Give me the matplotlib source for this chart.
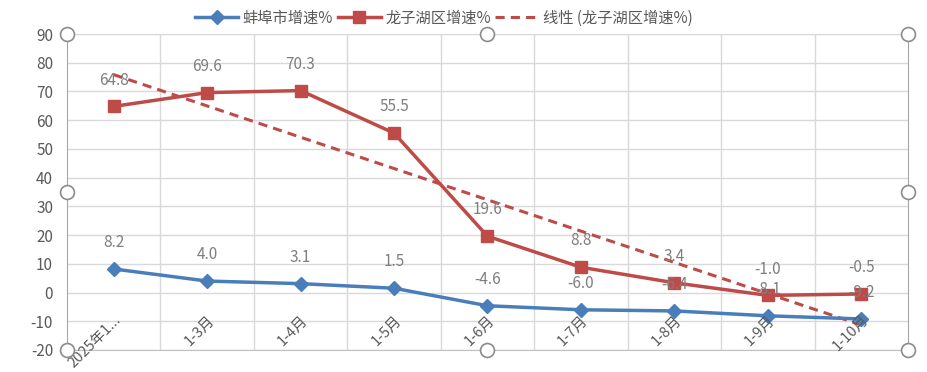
import numpy as np
import matplotlib
matplotlib.use("Agg")
import matplotlib.pyplot as plt
from matplotlib.lines import Line2D

plt.rcParams['font.family'] = ['Noto Sans CJK SC', 'DejaVu Sans']

categories = ["2025年1...", "1-3月", "1-4月", "1-5月", "1-6月", "1-7月", "1-8月", "1-9月", "1-10月"]
bengbu = [8.2, 4.0, 3.1, 1.5, -4.6, -6.0, -6.4, -8.1, -9.2]
longzihu = [64.8, 69.6, 70.3, 55.5, 19.6, 8.8, 3.4, -1.0, -0.5]
series_names = ["蚌埠市增速%", "龙子湖区增速%", "线性 (龙子湖区增速%)"]
yticks = list(range(-20, 100, 10))

blue = "#4A7EBB"
red = "#BE4B48"
gray_txt = "#7F7F7F"
tick_txt = "#595959"
grid_c = "#D9D9D9"

fig = plt.figure(figsize=(9.28, 3.72), dpi=100)
ax = fig.add_axes([67/928, 1-350/372, (908-67)/928, 316/372])

x = np.arange(len(categories))
ax.set_xlim(-0.5, len(categories)-0.5)
ax.set_ylim(-20, 90)

ax.set_yticks(yticks)
ax.set_yticklabels([str(v) for v in yticks], color=tick_txt, fontsize=11)
ax.set_xticks(x[:-1] + 0.5, minor=True)
ax.set_xticks([])
ax.grid(axis='y', color=grid_c, lw=1)
ax.grid(axis='x', which='minor', color=grid_c, lw=1)
ax.tick_params(axis='both', which='both', length=0)
ax.tick_params(axis='y', pad=10)
ax.set_axisbelow(True)
ax.spines['top'].set_color(grid_c)
ax.spines['bottom'].set_color("#BFBFBF")
ax.spines['left'].set_color("#A6A6A6")
ax.spines['right'].set_color("#A6A6A6")

# trend line (linear fit of 龙子湖区)
coef = np.polyfit(x + 1, longzihu, 1)
trend = np.polyval(coef, x + 1)
l3, = ax.plot(x, trend, color=red, lw=2.2, ls=(0, (3, 2)), zorder=2)

l1, = ax.plot(x, bengbu, color=blue, lw=2.5, marker='D', ms=7, zorder=3)
l2, = ax.plot(x, longzihu, color=red, lw=2.5, marker='s', ms=8, zorder=3)

for series in (bengbu, longzihu):
    for xi, v in zip(x, series):
        ax.annotate(f"{v:.1f}", (xi, v), xytext=(0, 19), textcoords='offset points',
                    ha='center', va='center', color=gray_txt, fontsize=11, zorder=5)

for xi, lab in zip(x, categories):
    ax.text(xi + 0.0, 0.118, lab, transform=ax.get_xaxis_transform(), rotation=45,
            ha='right', va='top', rotation_mode='anchor', color=tick_txt, fontsize=10.5)

for hx, hy in [(0, 1), (0.5, 1), (1, 1), (0, 0.5), (1, 0.5), (0, 0), (0.5, 0), (1, 0)]:
    ax.add_artist(Line2D([hx], [hy], transform=ax.transAxes, marker='o', ms=10,
                         mfc='white', mec='#8C8C8C', mew=1.2, clip_on=False, zorder=10))

leg = fig.legend([l1, l2, l3], series_names, loc='center', bbox_to_anchor=(444/928, 1-18/372),
                 ncol=3, frameon=False, fontsize=11, handlelength=2.8, columnspacing=0.3,
                 handletextpad=0.3, borderpad=0)
for t in leg.get_texts():
    t.set_color(tick_txt)

fig.savefig("out.png", dpi=100)
